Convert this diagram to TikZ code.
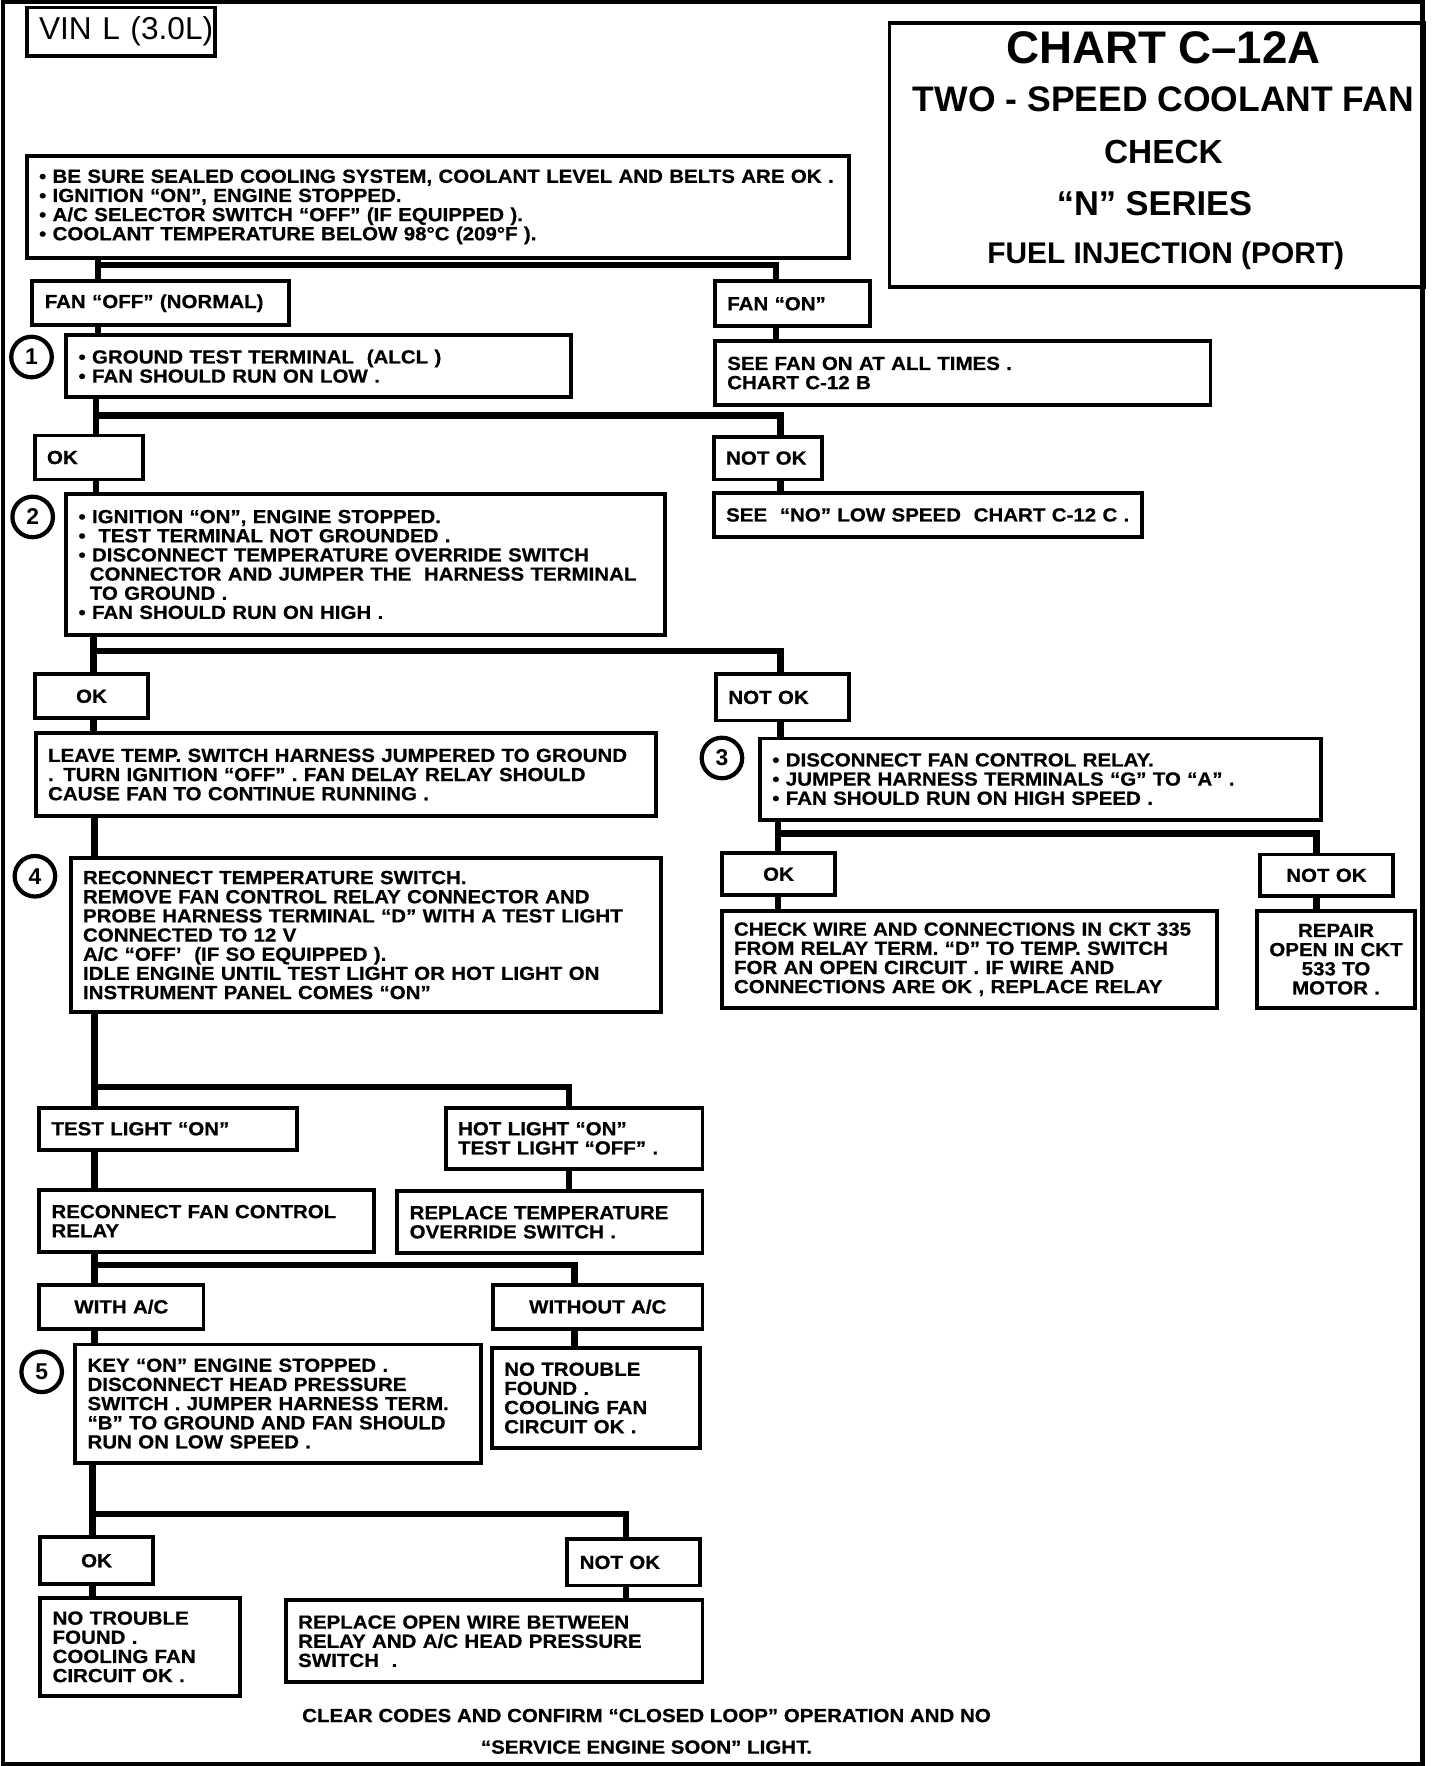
\documentclass[tikz,border=0pt]{standalone}
\usepackage{fontspec}
\newfontfamily\chartfont{Liberation Sans}[FakeStretch=1.08, FakeBold=0.6]
\newfontfamily\titlefont{Liberation Sans}
\newlength{\chartpx}
\setlength{\chartpx}{0.02252cm}
\tikzset{
  boxbase/.style={draw, line width=2.2pt, anchor=north west, inner sep=0pt,
    font=\chartfont\bfseries\fontsize{10.8}{10.9}\selectfont},
  box/.style={boxbase, align=left, execute at begin node={\leftskip=11\chartpx\relax}},
  midbox/.style={boxbase, align=center},
  wh/.style 2 args={minimum width={#1*\chartpx}, minimum height={#2*\chartpx}, text width={#1*\chartpx}},
  wire/.style={line width=3.6pt},
  numcirc/.style={draw, circle, line width=2.4pt, minimum size={36*\chartpx}, inner sep=0pt,
    font=\titlefont\bfseries\fontsize{13}{13}\selectfont},
  titleline/.style={anchor=base, inner sep=0pt, font=\titlefont\bfseries\fontsize{#1}{#1}\selectfont},
  footline/.style={anchor=base, inner sep=0pt, font=\chartfont\bfseries\fontsize{10.8}{10.9}\selectfont},
}
\begin{document}
\begin{tikzpicture}[x=0.02252cm, y=-0.02252cm]
\useasboundingbox (0,0) rectangle (1279,1568);
\draw[line width=2.4pt] (3,1.5) rectangle (1263,1566);

% heading
\node[box, wh={167}{43}, font=\titlefont\fontsize{18}{18}\selectfont] (vin) at (22,5) {VIN L (3.0L)};
\node[boxbase, wh={475}{234}] (title) at (788,19) {};
\node[titleline=26] (ttl1) at (1033,56) {CHART C–12A};
\node[titleline=20.2] (ttl2) at (1033,99) {TWO - SPEED COOLANT FAN};
\node[titleline=19] (ttl3) at (1033,145) {CHECK};
\node[titleline=19.6] (ttl4) at (1025,191) {“N” SERIES};
\node[titleline=17] (ttl5) at (1035,234) {FUEL INJECTION (PORT)};

% start
\node[box, wh={730}{90}] (start) at (22,137) {• BE SURE SEALED COOLING SYSTEM, COOLANT LEVEL AND BELTS ARE OK .\\
  • IGNITION “ON”, ENGINE STOPPED.\\
  • A/C SELECTOR SWITCH “OFF” (IF EQUIPPED ).\\
  • COOLANT TEMPERATURE BELOW 98°C (209°F ).};
\node[box, wh={228}{39}] (fanoff) at (27,248) {FAN “OFF” (NORMAL)};
\node[box, wh={138}{40}] (fanon) at (633,248) {FAN “ON”};
\node[box, wh={440}{57}] (seefan) at (633,301) {SEE FAN ON AT ALL TIMES .\\ CHART C-12 B};

% step 1
\node[numcirc] (num1) at (28,317) {1};
\node[box, wh={448}{55}] (chk1) at (57,296) {• GROUND TEST TERMINAL \ (ALCL )\\ • FAN SHOULD RUN ON LOW .};
\node[box, wh={96}{39}] (ok1) at (29,385) {OK};
\node[box, wh={96}{38}] (nok1) at (632,386) {NOT OK};
\node[box, wh={380}{39}] (seeno) at (632,436) {SEE \ “NO” LOW SPEED \ CHART C-12 C .};

% step 2
\node[numcirc] (num2) at (29,459) {2};
\node[box, wh={532}{125}] (chk2) at (57,437) {• IGNITION “ON”, ENGINE STOPPED.\\
  • \ TEST TERMINAL NOT GROUNDED .\\
  • DISCONNECT TEMPERATURE OVERRIDE SWITCH\\
  \hspace*{10\chartpx}CONNECTOR AND JUMPER THE \ HARNESS TERMINAL\\
  \hspace*{10\chartpx}TO GROUND .\\
  • FAN SHOULD RUN ON HIGH .};
\node[midbox, wh={101}{39}] (ok2) at (29,597) {OK};
\node[box, wh={118}{41}] (nok2) at (634,597) {NOT OK};
\node[box, wh={551}{74}] (leave) at (30,649) {LEAVE TEMP. SWITCH HARNESS JUMPERED TO GROUND\\
  . TURN IGNITION “OFF” . FAN DELAY RELAY SHOULD\\
  CAUSE FAN TO CONTINUE RUNNING .};

% step 3
\node[numcirc] (num3) at (641,673) {3};
\node[box, wh={498}{72}] (chk3) at (673,654) {• DISCONNECT FAN CONTROL RELAY.\\
  • JUMPER HARNESS TERMINALS “G” TO “A” .\\
  • FAN SHOULD RUN ON HIGH SPEED .};
\node[midbox, wh={101}{37}] (ok3) at (639,756) {OK};
\node[midbox, wh={118}{37}] (nok3) at (1117,757) {NOT OK};
\node[box, wh={440}{86}] (chkwire) at (639,807) {CHECK WIRE AND CONNECTIONS IN CKT 335\\
  FROM RELAY TERM. “D” TO TEMP. SWITCH\\
  FOR AN OPEN CIRCUIT . IF WIRE AND\\
  CONNECTIONS ARE OK , REPLACE RELAY};
\node[midbox, wh={141}{86}] (repair) at (1114,807) {REPAIR\\ OPEN IN CKT\\ 533 TO\\ MOTOR .};

% step 4
\node[numcirc] (num4) at (31,778) {4};
\node[box, wh={524}{137}] (chk4) at (61,760) {RECONNECT TEMPERATURE SWITCH.\\
  REMOVE FAN CONTROL RELAY CONNECTOR AND\\
  PROBE HARNESS TERMINAL “D” WITH A TEST LIGHT\\
  CONNECTED TO 12 V\\
  A/C “OFF’ \ (IF SO EQUIPPED ).\\
  IDLE ENGINE UNTIL TEST LIGHT OR HOT LIGHT ON\\
  INSTRUMENT PANEL COMES “ON”};
\node[box, wh={229}{37}] (teston) at (33,982) {TEST LIGHT “ON”};
\node[box, wh={228}{54}] (hoton) at (394,982) {HOT LIGHT “ON”\\ TEST LIGHT “OFF” .};
\node[box, wh={297}{55}] (recon) at (33,1055) {RECONNECT FAN CONTROL\\ RELAY};
\node[box, wh={271}{55}] (reptemp) at (351,1056) {REPLACE TEMPERATURE\\ OVERRIDE SWITCH .};
\node[midbox, wh={146}{39}] (withac) at (33,1139) {WITH A/C};
\node[midbox, wh={186}{39}] (withoutac) at (436,1139) {WITHOUT A/C};

% step 5
\node[numcirc] (num5) at (37,1218) {5};
\node[box, wh={360}{105}] (chk5) at (65,1192) {KEY “ON” ENGINE STOPPED .\\
  DISCONNECT HEAD PRESSURE\\
  SWITCH . JUMPER HARNESS TERM.\\
  “B” TO GROUND AND FAN SHOULD\\
  RUN ON LOW SPEED .};
\node[box, wh={185}{89}] (ntf1) at (435,1195) {NO TROUBLE\\ FOUND .\\ COOLING FAN\\ CIRCUIT OK .};
\node[midbox, wh={100}{42}] (ok4) at (34,1363) {OK};
\node[box, wh={118}{41}] (nok4) at (502,1365) {NOT OK};
\node[box, wh={177}{87}] (ntf2) at (34,1417) {NO TROUBLE\\ FOUND .\\ COOLING FAN\\ CIRCUIT OK .};
\node[box, wh={370}{73}] (repwire) at (252,1419) {REPLACE OPEN WIRE BETWEEN\\
  RELAY AND A/C HEAD PRESSURE\\
  SWITCH \ .};

\node[footline] (foot1) at (574,1529) {CLEAR CODES AND CONFIRM “CLOSED LOOP” OPERATION AND NO};
\node[footline] (foot2) at (574,1557) {“SERVICE ENGINE SOON” LIGHT.};

% junctions
\coordinate (j1a) at (87,235);   \coordinate (j1b) at (689,235);
\coordinate (j2a) at (85,369);   \coordinate (j2b) at (693,369);
\coordinate (j3a) at (83,578);   \coordinate (j3b) at (693,578);
\coordinate (j4a) at (691,740);  \coordinate (j4b) at (1169,740);
\coordinate (j5a) at (84,965);   \coordinate (j5b) at (505,965);
\coordinate (j6a) at (84,1123);  \coordinate (j6b) at (510,1123);
\coordinate (j7a) at (82,1344);  \coordinate (j7b) at (556,1344);

% connectors
\draw[wire] (start.south -| j1a) -- (fanoff.north -| j1a);
\draw[wire] (j1a) -- (j1b) -- (fanon.north -| j1b);
\draw[wire] (fanon.south -| j1b) -- (seefan.north -| j1b);
\draw[wire] (fanoff.south -| j1a) -- (chk1.north -| j1a);

\draw[wire] (chk1.south -| j2a) -- (ok1.north -| j2a);
\draw[wire] (j2a) -- (j2b) -- (nok1.north -| j2b);
\draw[wire] (nok1.south -| j2b) -- (seeno.north -| j2b);
\draw[wire] (ok1.south -| j2a) -- (chk2.north -| j2a);

\draw[wire] (chk2.south -| j3a) -- (ok2.north -| j3a);
\draw[wire] (j3a) -- (j3b) -- (nok2.north -| j3b);
\draw[wire] (nok2.south -| j3b) -- (chk3.north -| j3b);
\draw[wire] (ok2.south -| j3a) -- (leave.north -| j3a);
\draw[wire] (leave.south -| j5a) -- (chk4.north -| j5a);

\draw[wire] (chk3.south -| j4a) -- (ok3.north -| j4a);
\draw[wire] (j4a) -- (j4b) -- (nok3.north -| j4b);
\draw[wire] (ok3.south -| j4a) -- (chkwire.north -| j4a);
\draw[wire] (nok3.south -| j4b) -- (repair.north -| j4b);

\draw[wire] (chk4.south -| j5a) -- (teston.north -| j5a);
\draw[wire] (j5a) -- (j5b) -- (hoton.north -| j5b);
\draw[wire] (teston.south -| j5a) -- (recon.north -| j5a);
\draw[wire] (hoton.south -| j5b) -- (reptemp.north -| j5b);

\draw[wire] (recon.south -| j6a) -- (withac.north -| j6a);
\draw[wire] (j6a) -- (j6b) -- (withoutac.north -| j6b);
\draw[wire] (withac.south -| j6a) -- (chk5.north -| j6a);
\draw[wire] (withoutac.south -| j6b) -- (ntf1.north -| j6b);

\draw[wire] (chk5.south -| j7a) -- (ok4.north -| j7a);
\draw[wire] (j7a) -- (j7b) -- (nok4.north -| j7b);
\draw[wire] (ok4.south -| j7a) -- (ntf2.north -| j7a);
\draw[wire] (nok4.south -| j7b) -- (repwire.north -| j7b);
\end{tikzpicture}
\end{document}
